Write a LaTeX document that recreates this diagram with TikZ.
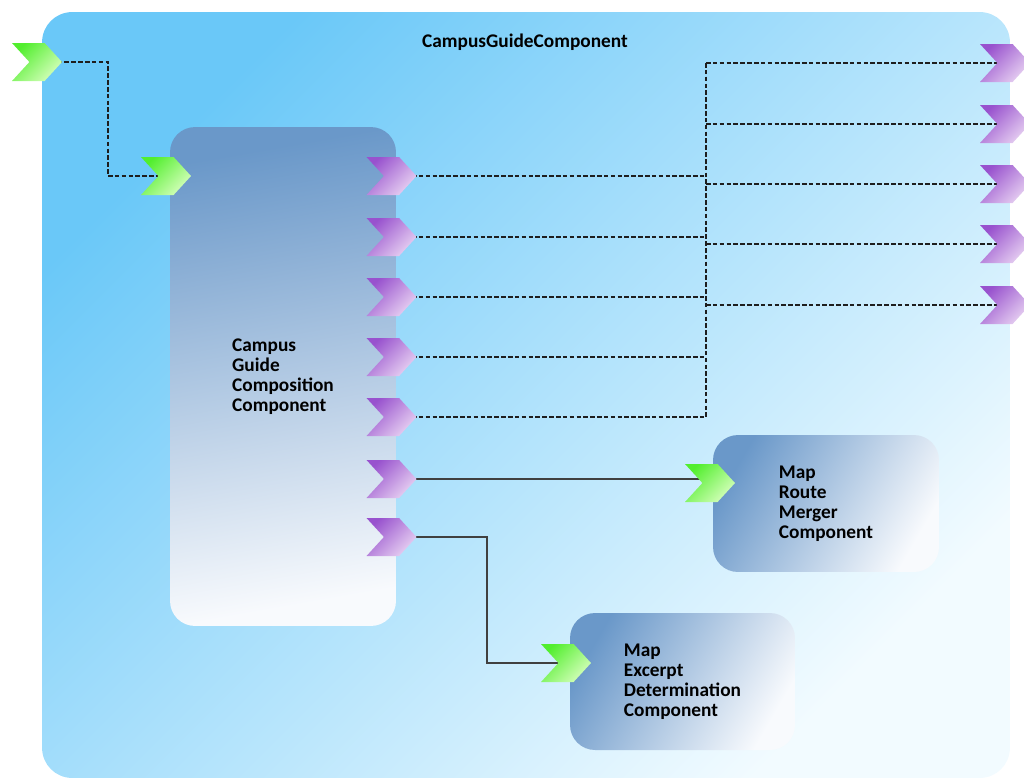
\documentclass[tikz,border=0pt]{standalone}
\usepackage{fontspec}
\setmainfont{Carlito}
\usetikzlibrary{shapes.symbols,backgrounds}
\pgfdeclarelayer{wires}
\pgfsetlayers{background,wires,main}
\definecolor{FrameTop}{HTML}{6AC8F8}
\definecolor{FrameBot}{HTML}{F2FBFF}
\definecolor{CompTop}{HTML}{6A98C9}
\definecolor{CompBot}{HTML}{F8FAFD}
\definecolor{InTop}{HTML}{52EE2E}
\definecolor{InBot}{HTML}{D6FFBC}
\definecolor{OutTop}{HTML}{9852CE}
\definecolor{OutBot}{HTML}{E8D2F2}
\definecolor{WireGray}{HTML}{1E1E1E}

\begin{document}
\begin{tikzpicture}[x=0.02cm,y=-0.02cm,
  frame/.style={rounded corners=0.6cm,top color=FrameTop,bottom color=FrameBot,shading angle=45,minimum width=19.36cm,minimum height=15.32cm},
  comp/.style={rounded corners=0.5cm,top color=CompTop,bottom color=CompBot,align=left,inner sep=0pt,font=\fontsize{11}{11.4}\selectfont\bfseries},
  title/.style={font=\fontsize{11}{13}\selectfont\bfseries,inner sep=0pt},
  port/.style={signal,signal from=west,signal to=east,signal pointer angle=95,minimum width=1cm,minimum height=0.76cm,inner sep=0pt},
  inport/.style={port,top color=InTop,bottom color=InBot,shading angle=45},
  outport/.style={port,top color=OutTop,bottom color=OutBot,shading angle=45},
  wire/.style={line width=1.3pt,dash pattern=on 2.6pt off 1.3pt,color=WireGray},
  link/.style={line width=1.2pt,color=WireGray!85}
]
\useasboundingbox (0,0) rectangle (1024,778);
\begin{scope}[on background layer]
\node[frame] (frame) at (526,395) {};
\node[comp,minimum width=4.52cm,minimum height=9.98cm,shading angle=10] (cg) at (283,376.5) {Campus\\Guide\\Composition\\Component};
\node[comp,minimum width=4.52cm,minimum height=2.74cm,shading angle=60] (mr) at (826,503.5) {Map\\Route\\Merger\\Component};
\node[comp,minimum width=4.5cm,minimum height=2.74cm,shading angle=60] (me) at (682.5,681.5) {Map\\Excerpt\\Determination\\Component};
\end{scope}
\node[title] (ttl) at (525,42) {CampusGuideComponent};
% ports
\node[inport] (extIn) at (37,62) {};
\node[inport] (cgIn) at (166,176) {};
\node[inport] (mrIn) at (710,483) {};
\node[inport] (meIn) at (566,663) {};
\foreach \y [count=\i] in {176,237,297,357,417,479,537}
  \node[outport] (p\i) at (391.5,\y) {};
\foreach \y [count=\i] in {63,124,184,244,305}
  \node[outport] (r\i) at (1005,\y) {};
% connectors
\begin{pgfonlayer}{wires}
\coordinate (hop) at (108,0);
\coordinate (bus) at (706,0);
\coordinate (kink) at (487,0);
\draw[wire] (extIn.center) -- (extIn.center -| hop) -- (cgIn.center -| hop) -- (cgIn.center);
\foreach \i in {1,...,5} {
  \draw[wire] (p\i.center) -- (p\i.center -| bus);
  \draw[wire] (r\i.center -| bus) -- (r\i.center);
}
\draw[wire] (r1.center -| bus) -- (p5.center -| bus);
\draw[link] (p6.center) -- (p6.center -| mrIn.center);
\draw[link] (p7.center) -- (p7.center -| kink) -- (meIn.center -| kink) -- (meIn.center);
\end{pgfonlayer}
\end{tikzpicture}
\end{document}
